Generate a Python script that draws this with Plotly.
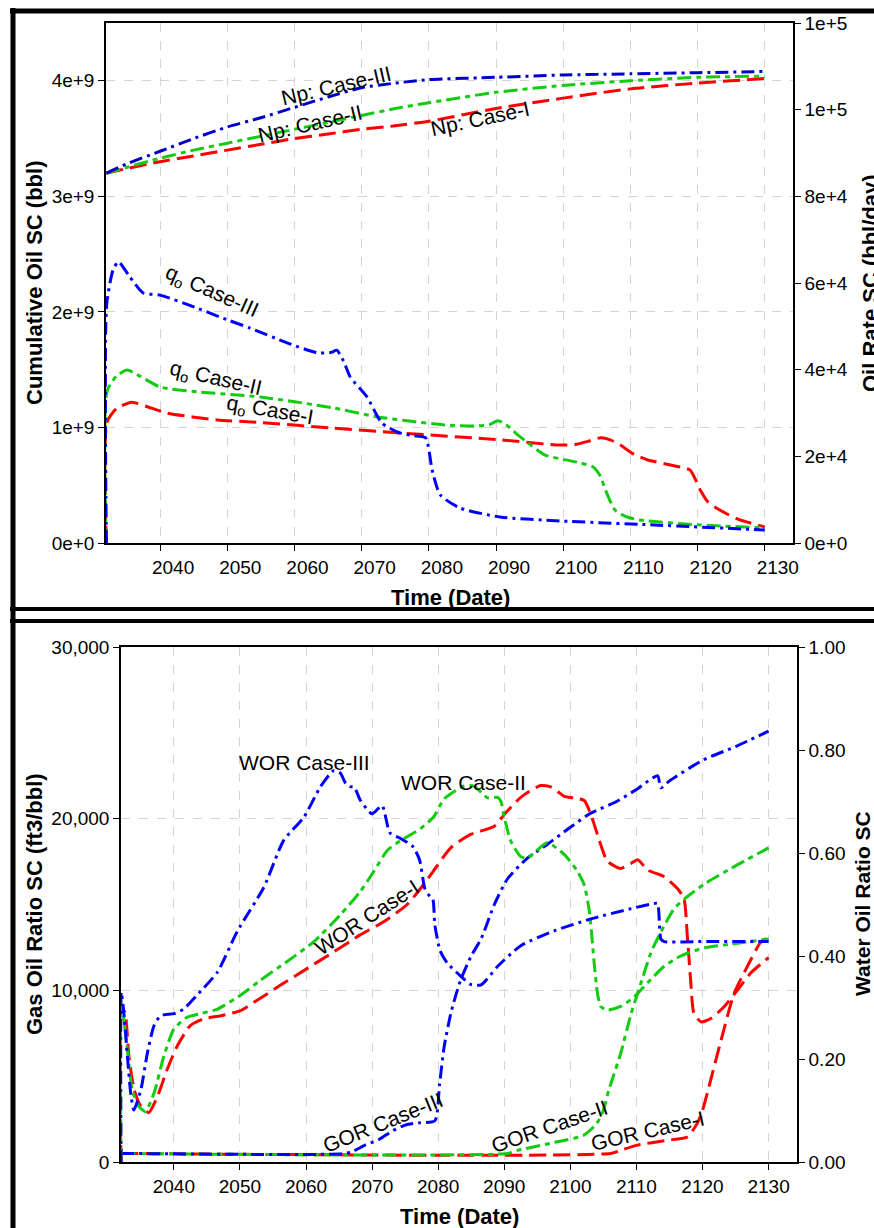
import plotly.graph_objects as go

W, H = 874, 1228

# ---------------- Upper panel data ----------------
years_np = [2032, 2035, 2040, 2045, 2050, 2055, 2060, 2065, 2070, 2075, 2080, 2090, 2100, 2110, 2120, 2130]
np_case3 = [3.20e9, 3.28e9, 3.39e9, 3.50e9, 3.60e9, 3.68e9, 3.77e9, 3.86e9, 3.94e9, 3.98e9, 4.01e9, 4.03e9, 4.05e9, 4.06e9, 4.07e9, 4.08e9]
np_case2 = [3.20e9, 3.25e9, 3.33e9, 3.40e9, 3.46e9, 3.52e9, 3.58e9, 3.64e9, 3.70e9, 3.76e9, 3.81e9, 3.90e9, 3.96e9, 4.00e9, 4.03e9, 4.04e9]
np_case1 = [3.20e9, 3.24e9, 3.30e9, 3.35e9, 3.40e9, 3.45e9, 3.50e9, 3.54e9, 3.58e9, 3.61e9, 3.65e9, 3.76e9, 3.85e9, 3.93e9, 3.98e9, 4.02e9]

t_q3 = [2032.0, 2032.05, 2033.0, 2033.8, 2035.5, 2037.5, 2040, 2045.5, 2050, 2053.4, 2058.9, 2063.4, 2065.5, 2066.3,
        2067.3, 2068.3, 2070.8, 2073.0, 2075.5, 2077.5, 2079.5, 2080.5, 2081.7, 2084.6, 2090.6, 2099.5, 2112.9, 2130]
q_case3 = [0, 55e3, 63e3, 64.9e3, 61.4e3, 57.7e3, 57.2e3, 54.2e3, 51.5e3, 49.6e3, 46.2e3, 43.9e3, 44.0e3, 44.5e3,
           42e3, 38.3e3, 33.7e3, 27.7e3, 25.5e3, 24.8e3, 24.3e3, 16.8e3, 11.1e3, 8.1e3, 6.0e3, 5.1e3, 4.2e3, 3.0e3]

t_q2 = [2032.0, 2032.1, 2033.5, 2035.1, 2037, 2040, 2045.5, 2054.9, 2065.7, 2072.3, 2082.7, 2087, 2089, 2090.3,
        2091.5, 2093.6, 2097.3, 2100, 2102.5, 2104.5, 2105.5, 2106.3, 2107.7, 2109.5, 2111.4, 2120, 2130]
q_case2 = [0, 35e3, 38.5e3, 39.9e3, 38.5e3, 36.0e3, 34.9e3, 33.7e3, 31.2e3, 29.1e3, 27.2e3, 27.0e3, 27.3e3, 28.2e3,
           27.3e3, 24.5e3, 20.3e3, 19.3e3, 18.5e3, 17.5e3, 15.5e3, 12.2e3, 7.6e3, 6.0e3, 5.3e3, 4.2e3, 3.5e3]

t_q1 = [2032.0, 2032.1, 2033.5, 2035.8, 2038, 2041, 2048.5, 2055, 2065.7, 2075.7, 2090.6, 2099.5, 2102, 2104,
        2105.6, 2107, 2108.5, 2110.5, 2112.5, 2117.4, 2118.9, 2120.4, 2121.5, 2123.3, 2126, 2130]
q_case1 = [0, 27.9e3, 31e3, 32.5e3, 31.5e3, 30.0e3, 28.4e3, 27.8e3, 26.5e3, 25.4e3, 23.8e3, 22.6e3, 22.8e3, 23.6e3,
           24.3e3, 23.8e3, 22.6e3, 20.5e3, 19.2e3, 17.5e3, 16.8e3, 12.2e3, 9.5e3, 7.6e3, 5.5e3, 3.7e3]

# ---------------- Lower panel data ----------------
t_w3 = [2032.0, 2032.05, 2032.5, 2033.0, 2033.5, 2033.95, 2035.0, 2036.0, 2037.0, 2038.0, 2040.0, 2041.5, 2043.5,
        2046.6, 2049.6, 2053.6, 2056.6, 2059.7, 2062.2, 2064.2, 2065.2, 2066.0, 2066.6, 2067.3, 2068.2, 2070.0,
        2071.5, 2072.7, 2074.2, 2076.2, 2077.2, 2078.0, 2078.8, 2079.2, 2079.5, 2080.3, 2081.4, 2083.4, 2084.9,
        2086.5, 2089.0, 2092.5, 2097.6, 2103.1, 2109.2, 2112.7, 2113.2, 2113.7, 2114.2, 2119.3, 2130]
wor_case3 = [0, 0.33, 0.28, 0.20, 0.13, 0.101, 0.14, 0.212, 0.265, 0.284, 0.288, 0.297, 0.324,
             0.369, 0.448, 0.533, 0.624, 0.670, 0.729, 0.760, 0.755, 0.735, 0.729, 0.728, 0.703, 0.676,
             0.692, 0.639, 0.629, 0.612, 0.586, 0.53, 0.515, 0.51, 0.46, 0.41, 0.386, 0.361, 0.345,
             0.344, 0.38, 0.42, 0.449, 0.472, 0.492, 0.502, 0.502, 0.433, 0.428, 0.428, 0.428]

t_g3 = [2032.0, 2065.5, 2067, 2069, 2071, 2073, 2075, 2077, 2079.5, 2080.2, 2080.9, 2082, 2083.4, 2085, 2086.5,
        2088.5, 2090.5, 2093.5, 2096.5, 2100, 2103, 2107, 2110, 2113.2, 2113.7, 2115, 2120, 2125, 2130]
gor_case3 = [500, 480, 600, 1000, 1300, 1800, 2150, 2280, 2400, 4500, 6700, 8800, 10600, 12000, 13000,
             15000, 16500, 17700, 18500, 19500, 20300, 21000, 21700, 22500, 21800, 22200, 23400, 24200, 25100]

t_w2 = [2032.0, 2032.05, 2032.9, 2033.7, 2034.7, 2035.7, 2037.0, 2038.5, 2040.0, 2042.0, 2044.0, 2046.6, 2050.1,
        2053.1, 2057.1, 2061.2, 2065.2, 2068.2, 2070.3, 2072.3, 2074.3, 2077.3, 2079.3, 2080.9, 2083.9, 2085.4,
        2087.5, 2089.0, 2089.5, 2090.0, 2091.0, 2092.5, 2093.5, 2094.5, 2096.5, 2099.1, 2101.1, 2102.1, 2102.9,
        2103.6, 2104.1, 2104.6, 2105.6, 2107.6, 2109.7, 2111.7, 2114.2, 2116.7, 2120.3, 2124.3, 2130]
wor_case2 = [0, 0.31, 0.225, 0.14, 0.108, 0.098, 0.134, 0.206, 0.258, 0.281, 0.288, 0.297, 0.324,
             0.353, 0.389, 0.428, 0.480, 0.525, 0.565, 0.605, 0.624, 0.647, 0.670, 0.705, 0.730, 0.730,
             0.707, 0.708, 0.700, 0.669, 0.623, 0.593, 0.590, 0.600, 0.620, 0.597, 0.564, 0.538, 0.485,
             0.387, 0.328, 0.302, 0.295, 0.302, 0.321, 0.348, 0.380, 0.400, 0.416, 0.423, 0.433]

t_g2 = [2032.0, 2090.5, 2092, 2097, 2102, 2104, 2105, 2105.8, 2106.5, 2107.6, 2109.2, 2110.2, 2112.2, 2113.7,
        2115.7, 2117.2, 2120.3, 2124.3, 2130]
gor_case2 = [500, 500, 680, 1090, 1550, 2250, 3010, 4170, 5000, 6300, 8650, 9835, 12200, 13400,
             14750, 15300, 16200, 17100, 18300]

t_w1 = [2032.0, 2032.05, 2032.6, 2033.2, 2034.0, 2035.0, 2036.2, 2037.5, 2039.0, 2040.5, 2042.5, 2044.5, 2047.1,
        2050.1, 2052.6, 2056.1, 2060.2, 2064.2, 2068.2, 2071.8, 2075.3, 2077.8, 2079.0, 2081.9, 2084.9, 2088.5,
        2090.0, 2092.5, 2095.5, 2097.1, 2099.1, 2100.6, 2102.1, 2103.1, 2104.6, 2105.6, 2107.6, 2109.2, 2110.2,
        2111.7, 2114.2, 2116.2, 2117.2, 2117.7, 2118.2, 2118.7, 2119.8, 2121.3, 2123.3, 2125.3, 2127.3, 2130]
wor_case1 = [0, 0.30, 0.29, 0.205, 0.14, 0.108, 0.096, 0.127, 0.18, 0.225, 0.265, 0.278, 0.284,
             0.294, 0.314, 0.343, 0.376, 0.408, 0.441, 0.467, 0.50, 0.539, 0.56, 0.61, 0.636, 0.652,
             0.675, 0.708, 0.731, 0.728, 0.710, 0.707, 0.702, 0.675, 0.616, 0.584, 0.570, 0.580, 0.587,
             0.567, 0.554, 0.531, 0.511, 0.439, 0.354, 0.289, 0.272, 0.279, 0.302, 0.334, 0.367, 0.397]

t_g1 = [2032.0, 2106.1, 2107.6, 2110, 2114.6, 2117.7, 2119.2, 2120, 2120.8, 2122.8, 2124.8, 2126.8, 2128.8, 2130]
gor_case1 = [500, 500, 680, 970, 1264, 1460, 2250, 3010, 4130, 7081, 9835, 11400, 12800, 13100]

# ---------------- styles ----------------
RED, GREEN, BLUE, NAVY = "#ff0000", "#11cc11", "#0000ff", "#0000c8"
DASH1 = "17px,7px"
DASH2 = "14px,5px,5px,5px"
DASH3 = "13px,5px,3px,5px"
LW = 3
FONT = "Liberation Sans, Arial, sans-serif"

fig = go.Figure()

def add(x, y, color, dash, xa, ya):
    fig.add_trace(go.Scatter(x=x, y=y, mode="lines", xaxis=xa, yaxis=ya, showlegend=False,
                             line=dict(color=color, width=LW, dash=dash, shape="spline", smoothing=0.6),
                             hoverinfo="skip"))

# upper panel
add(years_np, np_case1, RED, DASH1, "x", "y")
add(years_np, np_case2, GREEN, DASH2, "x", "y")
add(years_np, np_case3, NAVY, DASH3, "x", "y")
add(t_q1, q_case1, RED, DASH1, "x", "y2")
add(t_q2, q_case2, GREEN, DASH2, "x", "y2")
add(t_q3, q_case3, BLUE, DASH3, "x", "y2")

# lower panel
add(t_g1, gor_case1, RED, DASH1, "x2", "y3")
add(t_g2, gor_case2, GREEN, DASH2, "x2", "y3")
add(t_g3, gor_case3, BLUE, DASH3, "x2", "y3")
add(t_w1, wor_case1, RED, DASH1, "x2", "y4")
add(t_w2, wor_case2, GREEN, DASH2, "x2", "y4")
add(t_w3, wor_case3, BLUE, DASH3, "x2", "y4")

def px(x):
    return x / W

def py(y):
    return 1 - y / H

tickfont = dict(family=FONT, size=19, color="black")
axis_common = dict(showline=True, linecolor="black", linewidth=1.5, ticks="outside", ticklen=6,
                   tickcolor="black", tickwidth=1.2, tickfont=tickfont, zeroline=False, automargin=False)
grid = dict(showgrid=True, gridcolor="#d4d4d4", gridwidth=1, griddash="dash")

fig.update_layout(
    width=W, height=H, margin=dict(l=0, r=0, t=0, b=0, pad=0, autoexpand=False),
    paper_bgcolor="white", plot_bgcolor="white", showlegend=False,
    xaxis=dict(domain=[px(106), px(793)], range=[2031.95, 2134.2], anchor="y", tick0=2040, dtick=10,
               mirror=True, ticklabelshift=13, **axis_common, **grid),
    yaxis=dict(domain=[py(543), py(23)], range=[0, 4.5e9], anchor="x", tickvals=[0, 1e9, 2e9, 3e9, 4e9],
               tickformat=".0e", **axis_common, **grid),
    yaxis2=dict(range=[0, 1.2e5], overlaying="y", side="right", anchor="x",
                tickvals=[0, 2e4, 4e4, 6e4, 8e4, 1e5, 1.2e5], tickformat=".0e", showgrid=False, **axis_common),
    xaxis2=dict(domain=[px(121), px(797)], range=[2032.0, 2134.3], anchor="y3", tick0=2040, dtick=10,
                mirror=True, **axis_common, **grid),
    yaxis3=dict(domain=[py(1162), py(647)], range=[0, 30000], anchor="x2", tickvals=[0, 10000, 20000, 30000],
                tickformat=",", **axis_common, **grid),
    yaxis4=dict(range=[0, 1], overlaying="y3", side="right", anchor="x2", tickvals=[0, 0.2, 0.4, 0.6, 0.8, 1.0],
                tickformat=".2f", showgrid=False, **axis_common),
)

lab = dict(family=FONT, size=21, color="black")
ann = []

def note(text, x, y, xr, yr, angle=0):
    ann.append(dict(text=text, x=x, y=y, xref=xr, yref=yr, showarrow=False, textangle=angle, font=lab,
                    xanchor="center", yanchor="middle"))

# curve labels (data coordinates)
note("Np: Case-III", 2066.2, 3.96e9, "x", "y", -13)
note("Np: Case-II", 2062.3, 3.63e9, "x", "y", -13)
note("Np: Case-I", 2087.6, 3.67e9, "x", "y", -12)
note("q<sub>o</sub> Case-III", 2047.7, 2.17e9, "x", "y", 24)
note("q<sub>o</sub> Case-II", 2048.3, 1.42e9, "x", "y", 13)
note("q<sub>o</sub> Case-I", 2056.4, 1.14e9, "x", "y", 10)
note("WOR Case-III", 2059.8, 23300, "x2", "y3", 0)
note("WOR Case-II", 2083.8, 22080, "x2", "y3", 0)
note("WOR Case-I", 2069.1, 14270, "x2", "y3", -33)
note("GOR Case-III", 2071.6, 2330, "x2", "y3", -22)
note("GOR Case-II", 2096.8, 2040, "x2", "y3", -19)
note("GOR Case-I", 2111.8, 1810, "x2", "y3", -13)

# axis titles
tfont = dict(family=FONT, size=22, color="black")

def title(text, x, y, angle=0, size=22):
    ann.append(dict(text="<b>" + text + "</b>", x=px(x), y=py(y), xref="paper", yref="paper", showarrow=False,
                    textangle=angle, font=dict(family=FONT, size=size, color="black"),
                    xanchor="center", yanchor="middle"))

title("Cumulative Oil SC (bbl)", 34, 283, -90)
title("Oil Rate SC (bbl/day)", 870, 283, -90)
title("Time (Date)", 450, 597)
title("Gas Oil Ratio SC (ft3/bbl)", 34, 904, -90)
title("Water Oil Ratio SC", 862, 904, -90, 21)
title("Time (Date)", 459, 1216)

fig.update_layout(annotations=ann)

# thick panel frames
def hline(y, x0, x1, w):
    return dict(type="line", xref="paper", yref="paper", x0=px(x0), x1=px(x1), y0=py(y), y1=py(y),
                line=dict(color="black", width=w))

def vline(x, y0, y1, w):
    return dict(type="line", xref="paper", yref="paper", x0=px(x), x1=px(x), y0=py(y0), y1=py(y1),
                line=dict(color="black", width=w))

fig.update_layout(shapes=[
    hline(11, 10, 874, 5),
    vline(13, 8, 1228, 5),
    hline(609, 10, 874, 4),
    hline(621, 10, 874, 4),
])

fig.write_html("out.html")
